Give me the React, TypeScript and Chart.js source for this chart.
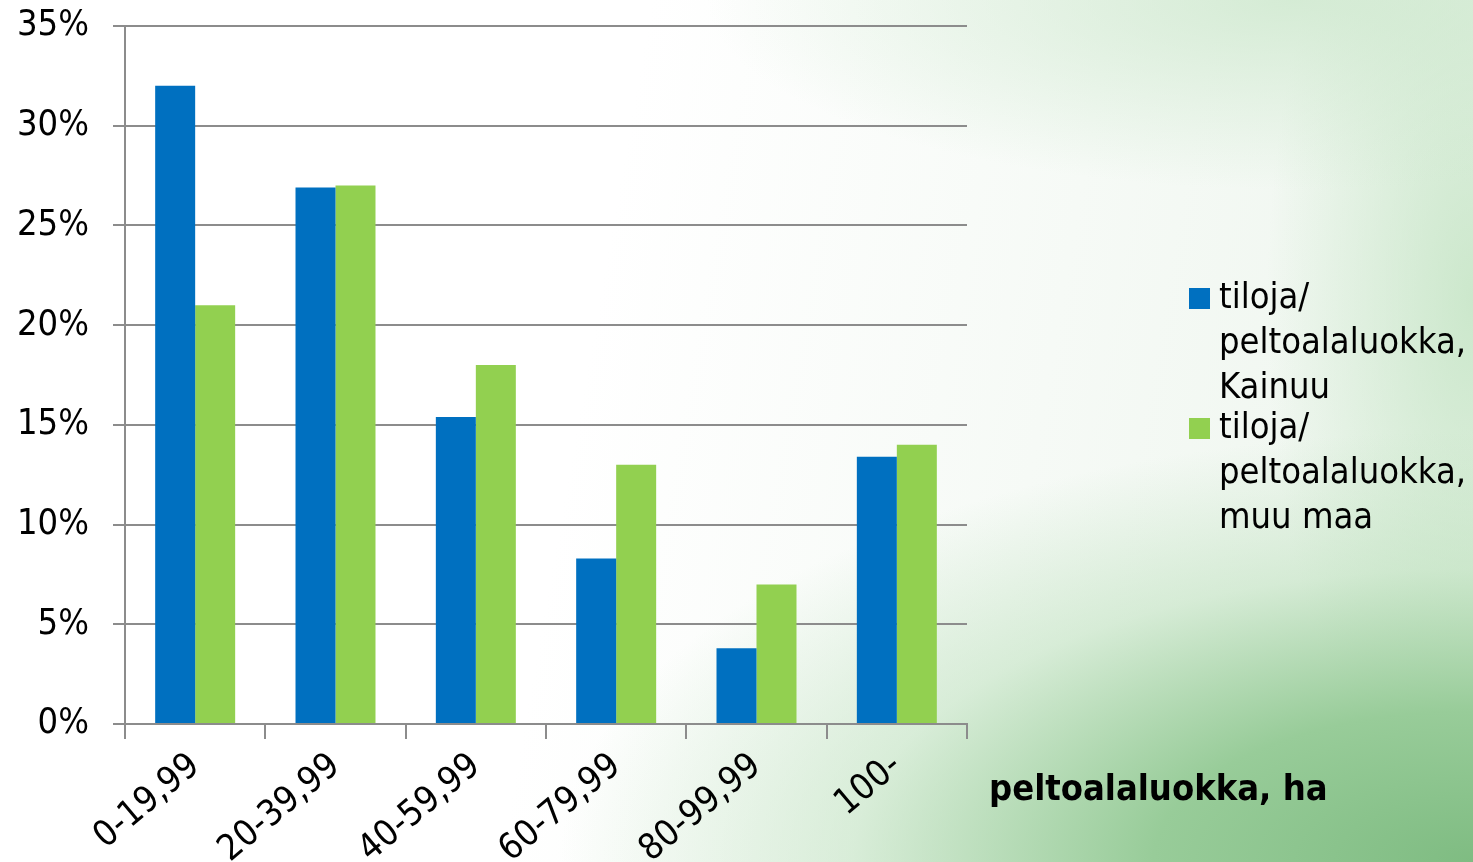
import React, { useEffect, useRef } from "react";
import { Chart, registerables } from "chart.js";

Chart.register(...registerables);

const categories = ["0-19,99", "20-39,99", "40-59,99", "60-79,99", "80-99,99", "100-"];
const kainuuValues = [32.0, 26.9, 15.4, 8.3, 3.8, 13.4];
const muuMaaValues = [21.0, 27.0, 18.0, 13.0, 7.0, 14.0];
const seriesLabels = [
  ["tiloja/", "peltoalaluokka,", "Kainuu"],
  ["tiloja/", "peltoalaluokka,", "muu maa"],
];
const seriesColors = ["#0070C0", "#92D050"];
const xAxisTitle = "peltoalaluokka, ha";
const yTickStep = 5;
const yMax = 35;

const FONT = "'DejaVu Sans Condensed', 'DejaVu Sans', Verdana, sans-serif";

const extrasPlugin = {
  id: "extras",
  afterDraw(chart: any) {
    const { ctx, chartArea } = chart;
    ctx.save();
    // x axis title
    ctx.font = `bold 36px ${FONT}`;
    ctx.fillStyle = "#000";
    ctx.textAlign = "left";
    ctx.textBaseline = "middle";
    ctx.fillText(xAxisTitle, chartArea.right + 22, chartArea.bottom + 67);
    // legend
    const lx = chartArea.right + 222;
    let y = 299;
    ctx.font = `36px ${FONT}`;
    seriesLabels.forEach((lines, i) => {
      ctx.fillStyle = seriesColors[i];
      ctx.fillRect(lx, y - 11, 21, 21);
      ctx.fillStyle = "#000";
      lines.forEach((ln, j) => {
        ctx.fillText(ln, lx + 30, y + j * 45);
      });
      y += 130;
    });
    ctx.restore();
  },
};

export default function App() {
  const ref = useRef<HTMLCanvasElement>(null);
  useEffect(() => {
    if (!ref.current) return;
    const chart = new Chart(ref.current, {
      type: "bar",
      data: {
        labels: categories,
        datasets: [
          {
            label: seriesLabels[0].join(" "),
            data: kainuuValues,
            backgroundColor: seriesColors[0],
            borderWidth: 0,
            categoryPercentage: 0.57,
            barPercentage: 1.0,
          },
          {
            label: seriesLabels[1].join(" "),
            data: muuMaaValues,
            backgroundColor: seriesColors[1],
            borderWidth: 0,
            categoryPercentage: 0.57,
            barPercentage: 1.0,
          },
        ],
      },
      options: {
        animation: false,
        responsive: false,
        devicePixelRatio: 1,
        layout: { padding: { left: 0, right: 506, top: 26, bottom: 0 } },
        plugins: {
          legend: { display: false },
          tooltip: { enabled: false },
        },
        scales: {
          x: {
            afterFit: (s: any) => {
              s.height = 138;
              s.paddingLeft = 0;
              s.paddingRight = 0;
            },
            border: { color: "#8c8c8c", width: 2 },
            grid: {
              display: true,
              drawOnChartArea: false,
              drawTicks: true,
              tickLength: 15,
              color: "#8c8c8c",
              lineWidth: 2,
              offset: true,
            },
            ticks: {
              color: "#000",
              font: { family: FONT, size: 36 },
              minRotation: 40,
              maxRotation: 40,
              padding: 6,
            },
          },
          y: {
            min: 0,
            max: yMax,
            afterFit: (s: any) => {
              s.width = 125;
              s.paddingTop = 0;
              s.paddingBottom = 0;
            },
            border: { color: "#8c8c8c", width: 2 },
            grid: {
              color: "#8c8c8c",
              lineWidth: 2,
              drawTicks: true,
              tickLength: 12,
            },
            ticks: {
              stepSize: yTickStep,
              color: "#000",
              font: { family: FONT, size: 36 },
              padding: 24,
              callback: (v: any) => `${v}%`,
            },
          },
        },
      },
      plugins: [extrasPlugin],
    });
    return () => chart.destroy();
  }, []);

  return (
    <div
      style={{
        position: "fixed",
        left: 0,
        top: 0,
        width: 1473,
        height: 862,
        overflow: "hidden",
        background:
          "radial-gradient(ellipse 62% 50% at 100% 100%, #7fbc82 0%, #98cc99 35%, rgba(190,225,190,0.55) 68%, rgba(255,255,255,0) 100%)," +
          "radial-gradient(ellipse 40% 22% at 88% 0%, rgba(205,232,205,0.8) 0%, rgba(255,255,255,0) 100%)," +
          "radial-gradient(ellipse 14% 60% at 100% 35%, rgba(195,228,195,0.8) 0%, rgba(255,255,255,0) 100%)," +
          "linear-gradient(100deg, rgba(255,255,255,0) 40%, rgba(228,240,228,0.7) 100%)," +
          "#ffffff",
      }}
    >
      <canvas ref={ref} width={1473} height={862} style={{ width: 1473, height: 862, display: "block" }} />
    </div>
  );
}
